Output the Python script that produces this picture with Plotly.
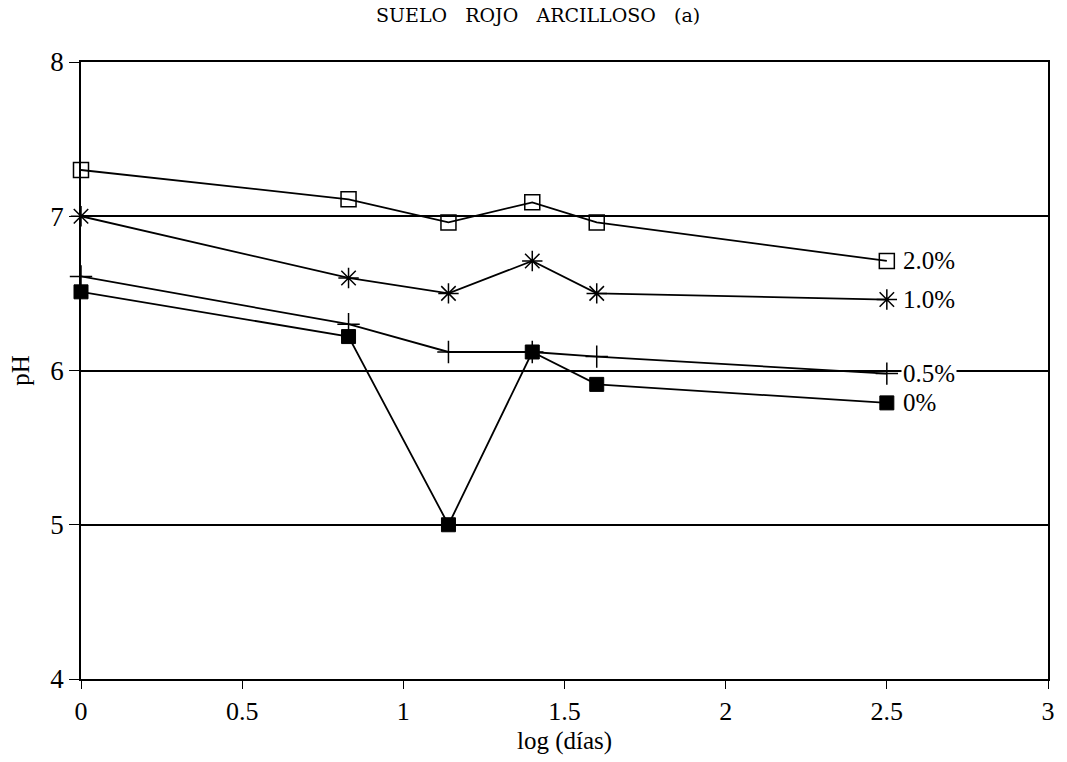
import plotly.graph_objects as go

x_log_dias = [0, 0.83, 1.14, 1.40, 1.60, 2.50]
ph_2_0 = [7.30, 7.11, 6.96, 7.09, 6.96, 6.71]
ph_1_0 = [7.00, 6.60, 6.50, 6.71, 6.50, 6.46]
ph_0_5 = [6.61, 6.30, 6.12, 6.12, 6.09, 5.98]
ph_0_0 = [6.51, 6.22, 5.00, 6.12, 5.91, 5.79]
series_labels = ["2.0%", "1.0%", "0.5%", "0%"]
title_text = "SUELO\u00a0\u00a0 ROJO\u00a0\u00a0 ARCILLOSO\u00a0\u00a0 (a)"

FONT = "Liberation Serif"
fig = go.Figure()

specs = [
    (ph_2_0, dict(symbol="square-open", size=15, color="black", line=dict(width=1.5, color="black"))),
    (ph_1_0, dict(symbol="asterisk-open", size=17, color="black", line=dict(width=1.5, color="black"))),
    (ph_0_5, dict(symbol="cross-thin-open", size=16, color="black", line=dict(width=1.5, color="black"))),
    (ph_0_0, dict(symbol="square", size=14, color="black", line=dict(width=1, color="black"))),
]
for (ys, mk), name in zip(specs, series_labels):
    fig.add_trace(go.Scatter(x=x_log_dias, y=ys, mode="lines+markers", name=name,
                             line=dict(color="black", width=1.8), marker=mk,
                             showlegend=False, cliponaxis=False))
    fig.add_annotation(x=x_log_dias[-1], y=ys[-1], text=name, showarrow=False,
                       xanchor="left", yanchor="middle", xshift=14,
                       font=dict(family=FONT, size=25, color="black"),
                       bgcolor="white", borderpad=1)

fig.add_annotation(x=0.473, y=1.0757, xref="paper", yref="paper", text=title_text,
                   showarrow=False, xanchor="center", yanchor="middle",
                   font=dict(family="DejaVu Serif", size=19, color="black"))

fig.update_layout(
    width=1067, height=762,
    margin=dict(l=81, r=18, t=62, b=79),
    paper_bgcolor="white", plot_bgcolor="white",
    font=dict(family=FONT, color="black"),
)
fig.update_xaxes(range=[0, 3], dtick=0.5, tick0=0, showgrid=False, zeroline=False,
                 showline=True, linecolor="black", linewidth=1.6, mirror=True,
                 ticks="outside", ticklen=8, tickcolor="black", tickwidth=1.2,
                 tickfont=dict(family=FONT, size=26),
                 title=dict(text="log (días)", font=dict(family=FONT, size=25), standoff=6))
fig.update_yaxes(range=[4, 8], dtick=1, tick0=4, showgrid=True, gridcolor="black", gridwidth=1.6,
                 zeroline=False, showline=True, linecolor="black", linewidth=1.6, mirror=True,
                 ticks="outside", ticklen=10, tickcolor="black", tickwidth=1.2,
                 tickfont=dict(family=FONT, size=27),
                 title=dict(text="pH", font=dict(family=FONT, size=25), standoff=14))

fig.write_html("out.html", post_script="document.body.style.margin='0';",
               config={"displayModeBar": False})
